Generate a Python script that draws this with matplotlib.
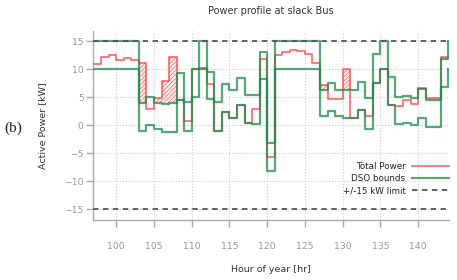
import numpy as np
import matplotlib
matplotlib.use("Agg")
import matplotlib.pyplot as plt

hours = list(range(97, 145))

dso_upper = [15, 15, 15, 15, 15, 15, 4.0, 5.0, 4.0, 3.9, 4.0, 9.3, 4.2, 10.1, 15, 9.6,
             4.1, 7.3, 6.4, 8.5, 5.5, 5.4, 13.1, -3.2, 15, 15, 15, 15, 15, 15, 6.4, 7.5,
             6.4, 6.4, 6.4, 7.8, 4.8, 12.7, 15, 8.6, 5.0, 5.3, 4.9, 6.5, 4.5, 4.6, 11.9, 15]

dso_lower = [10, 10, 10, 10, 10, 10, -1.0, 0.1, -0.6, -1.1, -1.1, 4.5, -1.0, 5.1, 10.1, 4.7,
             -1.0, 2.4, 1.4, 3.6, 0.5, 0.2, 8.2, -8.1, 10, 10, 10, 10, 10, 10, 1.6, 2.6,
             1.6, 1.4, 1.4, 2.8, -0.7, 7.6, 10.0, 3.7, 0.2, 0.5, 0.0, 1.3, -0.3, -0.3, 6.8, 10.0]

total_power = [11.0, 12.2, 12.6, 11.7, 12.0, 11.6, 11.1, 3.0, 4.8, 7.9, 12.2, 4.5, 0.7, 10.1, 10.2, 7.4,
               -1.0, 2.4, 1.4, 3.7, 0.5, 3.0, 11.9, -5.7, 12.5, 13.1, 13.4, 13.2, 12.7, 11.2, 7.2, 4.7,
               4.7, 10.1, 1.4, 2.8, 1.6, 7.6, 10.0, 3.7, 3.4, 4.5, 3.8, 6.6, 4.8, 4.9, 12.2, 12.2]

limit = 15
labels = ["Total Power", "DSO bounds", "+/-15 kW limit"]

plt.rcParams['hatch.linewidth'] = 0.5
fig = plt.figure(figsize=(4.57, 2.8), dpi=100)
ax = fig.add_axes([93.3 / 457, 1 - 220 / 280, (449 - 93.3) / 457, (220 - 30.7) / 280])

red = '#ff3c3c'
green = '#1f8a4c'

ax.step(hours, total_power, where='post', color=red, alpha=0.8, lw=1.2, label=labels[0], zorder=3)

# hatched violations (total above upper bound)
for i, h in enumerate(hours):
    if total_power[i] > dso_upper[i]:
        ax.fill_between([h, h + 1], dso_upper[i], total_power[i], facecolor=(1, 0.93, 0.93),
                        edgecolor='#f26a6a', hatch='////////', linewidth=0, zorder=2)

ax.step(hours, dso_upper, where='post', color=green, alpha=0.75, lw=1.6, label=labels[1], zorder=4)
ax.step(hours, dso_lower, where='post', color=green, alpha=0.75, lw=1.6, zorder=4)

ax.axhline(limit, color='#555555', lw=1.3, ls=(0, (3, 2.5)), label=labels[2], zorder=5)
ax.axhline(-limit, color='#555555', lw=1.3, ls=(0, (3, 2.5)), zorder=5)

ax.set_xlim(96.95, 144.1)
ax.set_ylim(-16.9, 16.9)
ax.set_xticks([100, 105, 110, 115, 120, 125, 130, 135, 140])
ax.set_yticks([-15, -10, -5, 0, 5, 10, 15])

ax.grid(True, color='#cccccc', ls=':', lw=0.8)
ax.set_axisbelow(True)
for s in ['top', 'right']:
    ax.spines[s].set_visible(False)
for s in ['left', 'bottom']:
    ax.spines[s].set_color('#aaaaaa')
    ax.spines[s].set_linewidth(1.0)

ax.tick_params(axis='x', direction='out', length=5, width=1, color='#aaaaaa',
               labelsize=6.7, labelcolor='#999999', pad=10.5)
ax.tick_params(axis='y', direction='out', length=5, width=1, color='#aaaaaa',
               labelsize=6.7, labelcolor='#999999', pad=2)

ax.set_title("Power profile at slack Bus", fontsize=7, color='#333333', pad=12)
ax.set_xlabel("Hour of year [hr]", fontsize=6.8, color='#333333', va='center')
ax.xaxis.set_label_coords(0.5, -(270 - 220) / 189.3)
ax.set_ylabel("Active Power [kW]", fontsize=6.8, color='#333333', va='center')
ax.yaxis.set_label_coords((42.7 - 93.3) / 355.7, 0.5)

leg = ax.legend(loc='center', bbox_to_anchor=(0.851, 0.217), frameon=False, markerfirst=False,
                fontsize=6.3, handlelength=4.3, handletextpad=0.7, labelspacing=0.35,
                borderpad=0.2)
for t in leg.get_texts():
    t.set_color('#222222')

fig.text(13.5 / 457, 1 - 128 / 280, "(b)", family='Liberation Serif', fontsize=11,
         color='#222222', ha='center', va='center')

fig.savefig("out.png", dpi=100)
